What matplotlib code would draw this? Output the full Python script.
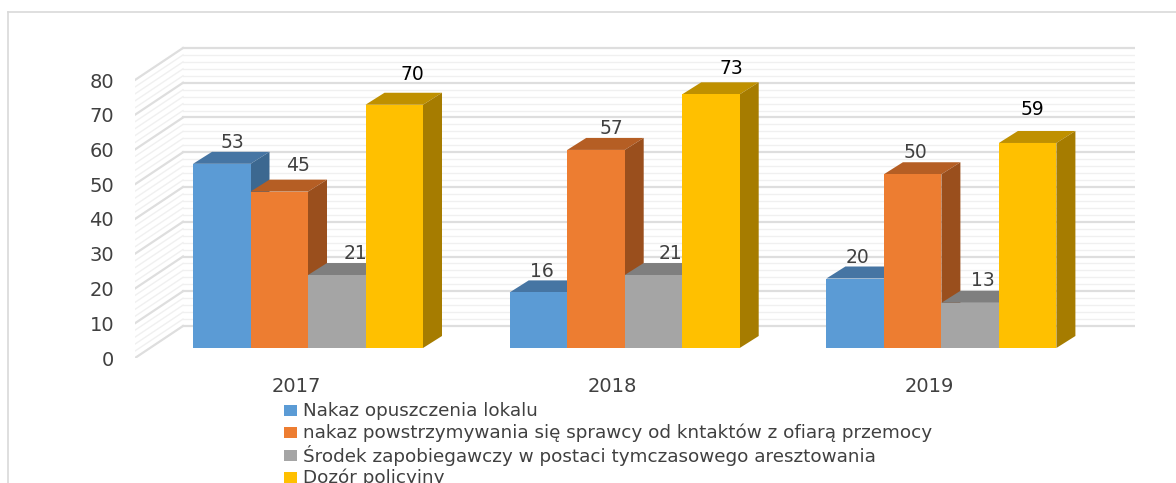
import matplotlib
matplotlib.use("Agg")
import matplotlib.pyplot as plt
from matplotlib.lines import Line2D
from matplotlib.patches import Polygon, Rectangle

plt.rcParams['font.family'] = ['DejaVu Sans']

# Chart data
years = ["2017", "2018", "2019"]
series_names = [
    "Nakaz opuszczenia lokalu",
    "nakaz powstrzymywania się sprawcy od kntaktów z ofiarą przemocy",
    "Środek zapobiegawczy w postaci tymczasowego aresztowania",
    "Dozór policyjny",
]
nakaz_opuszczenia = [53, 16, 20]
nakaz_powstrzymywania = [45, 57, 50]
srodek_zapobiegawczy = [21, 21, 13]
dozor_policyjny = [70, 73, 59]
series_values = [nakaz_opuszczenia, nakaz_powstrzymywania, srodek_zapobiegawczy, dozor_policyjny]
y_ticks = [0, 10, 20, 30, 40, 50, 60, 70, 80]

# Colours: front, top, side of each bar
front_colors = ["#5B9BD5", "#ED7D31", "#A5A5A5", "#FFC000"]
top_colors = ["#4675A3", "#B55E24", "#7F7F7F", "#BF9000"]
side_colors = ["#3C6890", "#9A4F1D", "#6E6E6E", "#A67C00"]

W, H = 1176, 483
PX_X = 316.7      # pixels per category
PX_Y = 3.475      # pixels per value unit
LEFT, RIGHT, BOTTOM, TOP = 135, 1135, 358, 30  # axes box in pixels
ZERO_X, ZERO_Y = 308, 348  # centre of first group, bar base

fig = plt.figure(figsize=(W / 100, H / 100), dpi=100)
rect = [LEFT / W, 1 - BOTTOM / H, (RIGHT - LEFT) / W, (BOTTOM - TOP) / H]

# Separate axes for the value ticks, they sit on the front edge of the wall
ax_y = fig.add_axes(rect, facecolor="none")
ax_y.set_ylim(0, (BOTTOM - TOP) / PX_Y)
ax_y.set_yticks(y_ticks)
ax_y.set_xticks([])
ax_y.tick_params(axis="y", length=0, pad=15, labelsize=14, labelcolor="#404040")
for s in ax_y.spines.values():
    s.set_visible(False)

ax = fig.add_axes(rect, facecolor="none")
ax.set_xlim((LEFT - ZERO_X) / PX_X, (RIGHT - ZERO_X) / PX_X)
ax.set_ylim((ZERO_Y - BOTTOM) / PX_Y, (ZERO_Y - TOP) / PX_Y)
ax.set_yticks([])
# category labels sit a bit left of the group centres in the original
ax.set_xticks([k - 12 / PX_X for k in range(len(years))])
ax.set_xticklabels(years)
ax.tick_params(axis="x", length=0, pad=14, labelsize=14, labelcolor="#404040")
for s in ax.spines.values():
    s.set_visible(False)

# Back wall and left wall grid lines
wall_dx = 48 / PX_X
wall_back = 22 / PX_Y
wall_front = -10 / PX_Y
back_x = ax.get_xlim()[0] + wall_dx
for v in range(0, 81, 2):
    major = v % 10 == 0
    col = "#DEDEDE" if major else "#F0F0F0"
    lw = 1.6 if major else 1.0
    ax.plot([back_x, ax.get_xlim()[1]], [v + wall_back, v + wall_back], color=col, lw=lw, zorder=1)
    ax.plot([ax.get_xlim()[0], back_x], [v + wall_front, v + wall_back], color=col, lw=lw, zorder=1)

# Bars with fake 3D depth
bar_w = 57.5 / PX_X
dx = 19 / PX_X
dy = 12 / PX_Y
n = len(series_values)
for i, values in enumerate(series_values):
    z = 3 + i
    xs = [k + (i - (n - 1) / 2) * bar_w for k in range(len(years))]
    ax.bar(xs, values, width=bar_w, color=front_colors[i], zorder=z + 0.5)
    for x, v in zip(xs, values):
        l, r = x - bar_w / 2, x + bar_w / 2
        ax.add_patch(Polygon([(l, v), (r, v), (r + dx, v + dy), (l + dx, v + dy)],
                             facecolor=top_colors[i], edgecolor="none", zorder=z))
        ax.add_patch(Polygon([(r, 0), (r + dx, dy), (r + dx, v + dy), (r, v)],
                             facecolor=side_colors[i], edgecolor="none", zorder=z))

# Data labels, offset in pixels from the top of the bar front
label_dx = [[11, 19, 19, 18], [3, 15, 17, 20], [2, 3, 13, 5]]
label_dy = [[21, 26, 22, 30], [21, 21, 22, 26], [21, 22, 22, 33]]
label_col = ["#404040", "#404040", "#404040", "#000000"]
for k in range(len(years)):
    for i, values in enumerate(series_values):
        x = k + (i - (n - 1) / 2) * bar_w
        ax.annotate(str(values[k]), (x, values[k]),
                    xytext=(label_dx[k][i] * 0.72, label_dy[k][i] * 0.72),
                    textcoords="offset points", ha="center", va="center",
                    fontsize=13.5, color=label_col[i], zorder=20)

# Legend rows, last one runs off the bottom of the picture like in the original
legend_rows = [410.5, 432.5, 455.5, 478]
for name, c, row in zip(series_names, front_colors, legend_rows):
    fig.add_artist(Rectangle((284 / W, 1 - (row + 5.5) / H), 13 / W, 11 / H,
                             transform=fig.transFigure, facecolor=c, edgecolor="none"))
    fig.text(303 / W, 1 - (row - 2) / H, name, fontsize=13.2, color="#404040", va="center_baseline")

# Outer chart frame, only top and left show
fig.add_artist(Line2D([8 / W, 1], [1 - 12 / H, 1 - 12 / H], color="#D9D9D9", lw=1.2))
fig.add_artist(Line2D([8 / W, 8 / W], [0, 1 - 12 / H], color="#D9D9D9", lw=1.2))

plt.savefig("out.png", dpi=100)
plt.close()
